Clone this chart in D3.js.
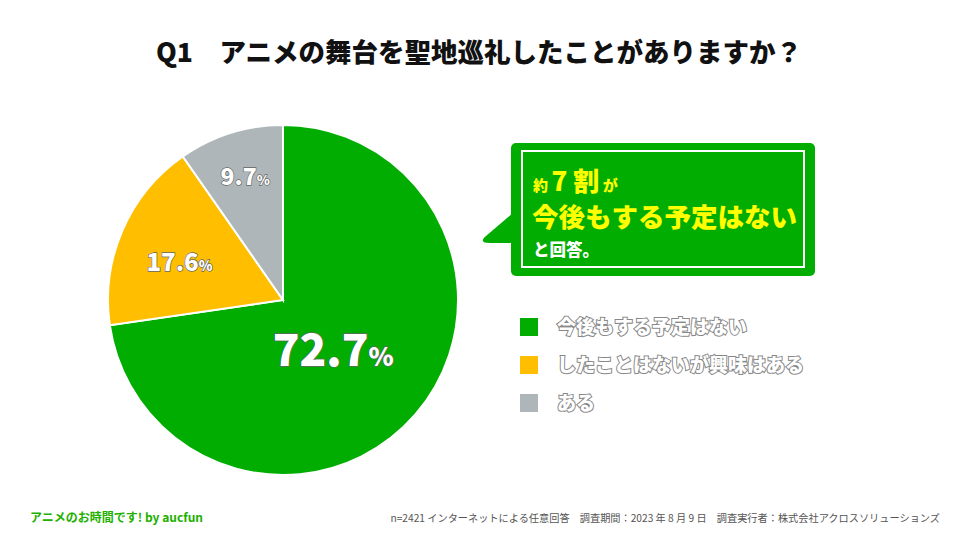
<!DOCTYPE html>
<html>
<head>
<meta charset="utf-8">
<script src="https://cdn.jsdelivr.net/npm/d3@7"></script>
<style>
  body { margin: 0; background: #fff; }
  text { font-family: "Noto Sans CJK JP", "Noto Sans", sans-serif; }
</style>
</head>
<body>
<svg id="chart" width="961" height="541"></svg>
<script>
// data
let categories = ['今後もする予定はない', 'したことはないが興味はある', 'ある'];
let values = [72.7, 17.6, 9.7];
let colors = ['#00ad00', '#ffbe00', '#aeb6b9'];

let svg = d3.select('#chart');

// title
svg.append('text')
  .attr('x', 479)
  .attr('y', 62)
  .attr('text-anchor', 'middle')
  .style('font-size', '26.5px')
  .style('font-weight', 900)
  .attr('fill', '#111')
  .attr('xml:space', 'preserve')
  .text('Q1　アニメの舞台を聖地巡礼したことがありますか？');

// pie
let cx = 283, cy = 300, radius = 175;
let pie = d3.pie().sort(null).value(d => d);
let arc = d3.arc().innerRadius(0).outerRadius(radius);
let arcs = pie(values);

let g = svg.append('g').attr('transform', 'translate(' + cx + ',' + cy + ')');

g.selectAll('path')
  .data(arcs)
  .enter()
  .append('path')
  .attr('d', arc)
  .attr('fill', (d, i) => colors[i])
  .attr('stroke', '#fff')
  .attr('stroke-width', 2);

// percent labels: radius ratio and nudge per slice, tuned to match the picture
let labelRadius = [0.5, 0.62, 0.72];
let labelShift = [[-16, 3], [-4, 8], [0, 0]];
let labelSize = [44, 24, 23];
let labels = g.selectAll('.pct')
  .data(arcs)
  .enter()
  .append('text')
  .attr('class', 'pct')
  .attr('transform', function(d, i) {
    let r = radius * labelRadius[i];
    let c = d3.arc().innerRadius(r).outerRadius(r).centroid(d);
    return 'translate(' + (c[0] + labelShift[i][0]) + ',' + (c[1] + labelShift[i][1]) + ')';
  })
  .attr('text-anchor', 'middle')
  .attr('dy', '0.35em')
  .style('font-weight', 900)
  .attr('fill', '#fff')
  .attr('stroke', '#666')
  .attr('stroke-width', 1.3)
  .attr('paint-order', 'stroke');

labels.append('tspan')
  .style('font-size', (d, i) => labelSize[i] + 'px')
  .text(d => d.data.toFixed(1));
labels.append('tspan')
  .style('font-size', (d, i) => (labelSize[i] * 0.58) + 'px')
  .text('%');

// callout box
let box = svg.append('g');
box.append('path')
  .attr('d', 'M514,212 L486,236 Q478,243 490,243 L514,243 Z')
  .attr('fill', '#00ad00');
box.append('rect')
  .attr('x', 511).attr('y', 143)
  .attr('width', 304).attr('height', 133)
  .attr('rx', 5)
  .attr('fill', '#00ad00');
box.append('rect')
  .attr('x', 522).attr('y', 151)
  .attr('width', 282).attr('height', 116)
  .attr('fill', 'none')
  .attr('stroke', '#fff')
  .attr('stroke-width', 2);

let line1 = box.append('text')
  .attr('x', 533).attr('y', 191)
  .attr('fill', '#ffff00')
  .style('font-weight', 900);
line1.append('tspan').style('font-size', '15px').text('約 ');
line1.append('tspan').style('font-size', '26px').text('7 割');
line1.append('tspan').style('font-size', '15px').text(' が');

box.append('text')
  .attr('x', 532).attr('y', 227)
  .attr('fill', '#ffff00')
  .style('font-size', '26.5px')
  .style('font-weight', 900)
  .text('今後もする予定はない');

box.append('text')
  .attr('x', 533).attr('y', 256)
  .attr('fill', '#fff')
  .style('font-size', '16.5px')
  .style('font-weight', 900)
  .text('と回答。');

// legend
let legend = svg.selectAll('.legend')
  .data(categories)
  .enter()
  .append('g')
  .attr('class', 'legend')
  .attr('transform', (d, i) => 'translate(520,' + (318 + i * 38) + ')');

legend.append('rect')
  .attr('width', 18).attr('height', 18)
  .attr('fill', (d, i) => colors[i]);

legend.append('text')
  .attr('x', 37).attr('y', 16)
  .style('font-size', '19px')
  .style('font-weight', 900)
  .attr('fill', '#fff')
  .attr('stroke', '#888')
  .attr('stroke-width', 2)
  .attr('paint-order', 'stroke')
  .text(d => d);

// footer
svg.append('text')
  .attr('x', 30).attr('y', 522)
  .attr('fill', '#22b000')
  .style('font-size', '12px')
  .style('font-weight', 700)
  .text('アニメのお時間です! by aucfun');

svg.append('text')
  .attr('x', 940).attr('y', 522)
  .attr('text-anchor', 'end')
  .attr('fill', '#555')
  .style('font-size', '10.2px')
  .attr('xml:space', 'preserve')
  .text('n=2421 インターネットによる任意回答　調査期間：2023 年 8 月 9 日　調査実行者：株式会社アクロスソリューションズ');
</script>
</body>
</html>
